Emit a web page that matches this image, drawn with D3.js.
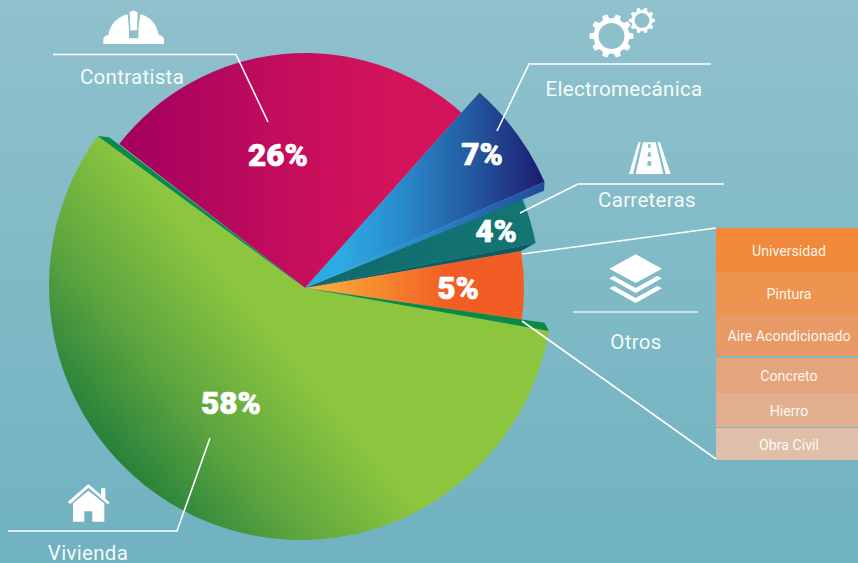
<!DOCTYPE html>
<html><head><meta charset="utf-8">
<script src="https://cdn.jsdelivr.net/npm/d3@7"></script>
<style>html,body{margin:0;padding:0;background:#7db8c5}svg{display:block}text{font-family:Roboto,sans-serif}</style>
</head><body><svg id="c" width="858" height="563"></svg>
<script>
// Data
const categories = ["Contratista","Electromecánica","Carreteras","Otros","Vivienda"];
const shares = [26.1,7.2,3.5,5.0,58.2];            // angular share measured from the slices
const shownLabels = ["26%","7%","4%","5%","58%"];
const otrosItems = ["Universidad","Pintura","Aire Acondicionado","Concreto","Hierro","Obra Civil"];

// Layout and style
const W=858,H=563,cx=305,cy=288,rad=Math.PI/180;
const radii=[235,262,235,219,254];
const fills=["url(#gCrim)","url(#gBlue)","url(#gTeal)","url(#gOrange)","url(#gGreen)"];
const labelPos=[[278,166],[482,165],[496,242],[458,299],[231,414]];
const tableY=[228,272,315,358,393,428];
const tableH=[44,43,41,35,34,32];
const tableFill=["#f08a3a","#ee9450","#e89a66","#e4a57c","#e2b090","#dfbfa9"];

const svg=d3.select("#c");
const defs=svg.append("defs");
// gradient coordinates are given in page pixels and moved into the pie's frame
function grad(id,x1,y1,x2,y2,stops,inPie=true){
  const ox=inPie?cx:0,oy=inPie?cy:0;
  const g=defs.append("linearGradient").attr("id",id).attr("gradientUnits","userSpaceOnUse")
    .attr("x1",x1-ox).attr("y1",y1-oy).attr("x2",x2-ox).attr("y2",y2-oy);
  stops.forEach(s=>g.append("stop").attr("offset",s[0]).attr("stop-color",s[1]));
}
grad("gBg",0,0,0,H,[[0,"#90c1cd"],[1,"#70b2c0"]],false);
grad("gCrim",130,0,400,0,[[0,"#a4005e"],[0.6,"#c40e5c"],[1,"#d4145a"]]);
grad("gBlue",340,0,545,0,[[0,"#2cabe2"],[0.3,"#2a8acb"],[0.65,"#24589f"],[1,"#1b1a6e"]]);
grad("gBand",340,0,545,0,[[0,"#2ca9e2"],[0.5,"#2a7fc4"],[1,"#1f4a9c"]]);
grad("gTeal",320,0,535,0,[[0,"#0f6a6e"],[1,"#137672"]]);
grad("gOrange",310,0,450,0,[[0,"#fbb040"],[0.45,"#f78c2e"],[1,"#f25c25"]]);
grad("gGreen",100,470,270,330,[[0,"#1c7a3a"],[0.5,"#5da53f"],[1,"#8cc63f"]]);

svg.append("rect").attr("width",W).attr("height",H).attr("fill","url(#gBg)");

const pie=d3.pie().sort(null).value(d=>d).startAngle(-52.2*rad).endAngle(307.8*rad);
const arcs=pie(shares);
const arc=d3.arc().innerRadius(0);
const g=svg.append("g").attr("transform",`translate(${cx},${cy})`);
const pt=(a,r)=>d3.pointRadial(a,r);

// Angular insets leave room for the folded edges
const inset=[[0,0],[0,1.6],[0,1.3],[0,0]];
g.selectAll("path.slice").data(arcs.slice(0,4)).join("path").attr("class","slice")
 .attr("d",(d,i)=>arc({startAngle:d.startAngle+inset[i][0]*rad,endAngle:d.endAngle-inset[i][1]*rad,outerRadius:radii[i]}))
 .attr("fill",(d,i)=>fills[i]);

// The large slice is slightly off-round and off-centre in the artwork
const big=arcs[4], gA0=big.startAngle+1.9*rad, gA1=big.endAngle-1.6*rad;
const bigPoint=a=>[-4+252*Math.sin(a),-2-254*Math.cos(a)];
const bigRim=d3.range(0,121).map(i=>bigPoint(gA0+(gA1-gA0)*i/120));
g.append("path").attr("d",d3.line()([[0,0],...bigRim])+"Z").attr("fill",fills[4]);

function wedge(p1,p2,fill){
  g.append("path").attr("d",d3.line()([[0,0],p1,p2])+"Z").attr("fill",fill);
}
const A=arcs;
wedge(pt(A[1].endAngle-1.6*rad,262),pt(A[1].endAngle+0.2*rad,258),"url(#gBand)");
wedge(pt(A[2].endAngle-1.3*rad,235),pt(A[2].endAngle,219),"#0e5b60");
wedge(bigPoint(gA0),pt(A[4].startAngle,242),"#0b8a45");
wedge(bigPoint(gA1),pt(A[4].endAngle-0.2*rad,247),"#0b8a45");

// Otros table
const table=svg.append("g");
table.selectAll("rect").data(otrosItems).join("rect")
 .attr("x",716).attr("width",142).attr("y",(d,i)=>tableY[i]).attr("height",(d,i)=>tableH[i])
 .attr("fill",(d,i)=>tableFill[i]);
table.selectAll("text").data(otrosItems).join("text")
 .attr("x",789).attr("y",(d,i)=>tableY[i]+tableH[i]/2+5.5).attr("text-anchor","middle")
 .attr("font-size",14.2).attr("fill","#fff").attr("fill-opacity",.92).text(d=>d);

// Connectors
const lines=[
 [[53,54.5],[236,54.5],[268,122]],
 [[711,64],[529,64],[497,131]],
 [[724,184],[578,184],[520,213]],
 [[522,254],[716,228]],
 [[522,321],[716,459]],
 [[8,531],[177,531],[210,438]],
];
svg.append("g").selectAll("path").data(lines).join("path")
 .attr("d",d3.line()).attr("fill","none").attr("stroke","#fff").attr("stroke-width",1.6);
svg.append("line").attr("x1",573).attr("x2",698).attr("y1",312).attr("y2",312)
 .attr("stroke","#e6f1f3").attr("stroke-width",1.4);

// Category names
const namePos=[[132,84],[624,96],[647,207],[636,349],[88,560]];
svg.append("g").selectAll("text").data(categories).join("text")
 .attr("x",(d,i)=>namePos[i][0]).attr("y",(d,i)=>namePos[i][1]).attr("text-anchor","middle")
 .attr("font-size",20.5).attr("fill","#fff").attr("fill-opacity",.95).attr("letter-spacing",.3).text(d=>d);

// Percentages
svg.append("g").selectAll("text").data(shownLabels).join("text")
 .attr("x",(d,i)=>labelPos[i][0]).attr("y",(d,i)=>labelPos[i][1]).attr("text-anchor","middle")
 .attr("font-size",31.5).attr("font-weight",900).attr("fill","#fff").attr("stroke","#fff").attr("stroke-width",.7).text(d=>d);

// Icons
const ic=svg.append("g").attr("fill","#fff");
function gear(x,y,R,r,hole,n){
  let p=[];
  for(let i=0;i<n;i++){
    const s=2*Math.PI/n,a=i*s;
    [[-.30,r],[-.18,R],[.18,R],[.30,r]].forEach(q=>{
      const t=a+q[0]*s;p.push([x+q[1]*Math.cos(t),y+q[1]*Math.sin(t)]);
    });
  }
  const c=`M${x-hole},${y}a${hole},${hole} 0 1,0 ${2*hole},0a${hole},${hole} 0 1,0 ${-2*hole},0Z`;
  ic.append("path").attr("fill-rule","evenodd").attr("d",d3.line()(p)+"Z"+c);
}
gear(611.5,36,22,18,13,10);
gear(642,20.5,13,10.5,7.5,10);
// road
const road=ic.append("g").attr("transform","translate(620,135) scale(.3333)");
road.append("path").attr("d","M27,117L39,117L62,22L55,22ZM137,117L152,117L120,22L113,22Z");
road.append("path").attr("fill-rule","evenodd").attr("d","M47,117L130,117L107,22L69,22ZM82,92L94,92L93,78L83,78ZM83,65L93,65L92,52L84,52ZM84,38L92,38L91,27L85,27Z");
// layers
const lay=ic.append("g").attr("transform","translate(560,220) scale(.3333)");
lay.append("path").attr("d","M227,103L306,146L227,189L148,146ZM148,175L162,168L227,204L292,168L306,175L227,219ZM148,205L162,198L227,234L292,198L306,205L227,249Z");
// house
const house=ic.append("g").attr("transform","translate(0,440) scale(.3333)");
house.append("path").attr("d","M203,186L265,132L303,165L303,145L316,145L316,176L330,188L322,192L265,143L211,192ZM219,190L265,152L313,190L313,245L277,245L277,214L253,214L253,245L219,245Z");
// helmet
const helm=ic.append("g").attr("transform","translate(95,5) scale(.3333)");
helm.append("path").attr("d","M25,117L25,102Q27,92 40,90C44,60 68,34 98,28L102,72L102,100L130,100L130,72L136,28C166,34 186,60 191,90Q205,92 207,102L207,117ZM104,22Q116,12 128,22L126,76L106,76Z");
</script></body></html>
